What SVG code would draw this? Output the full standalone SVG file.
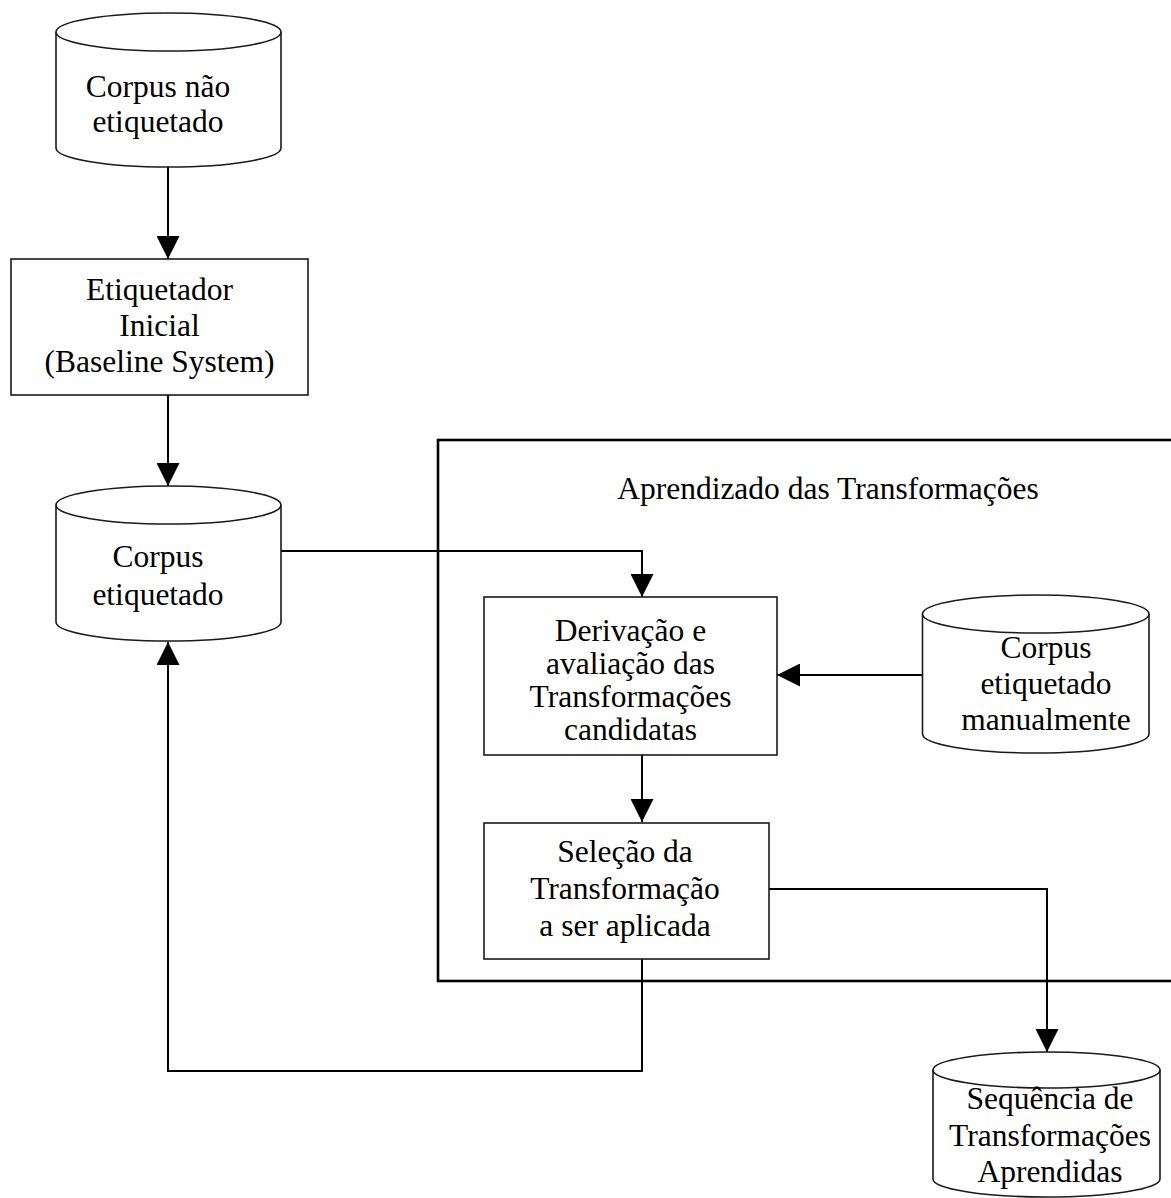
<svg xmlns="http://www.w3.org/2000/svg" width="1171" height="1198" viewBox="0 0 1171 1198">
  <defs>
    <style>
      .shape { fill: #ffffff; stroke: #1a1a1a; stroke-width: 1.6; }
      .frame { fill: none; stroke: #000000; stroke-width: 2.6; }
      .wire { fill: none; stroke: #000000; stroke-width: 2; }
      .lbl { font-family: "Liberation Serif", "Times New Roman", serif; font-size: 31.5px; fill: #000000; text-anchor: middle; }
    </style>
    <marker id="head" markerUnits="userSpaceOnUse" markerWidth="24" markerHeight="23" refX="23" refY="11.5" orient="auto">
      <path d="M0,0 L23,11.5 L0,23 Z" fill="#000000"/>
    </marker>
  </defs>

  <rect width="1171" height="1198" fill="#ffffff"/>

  <!-- learning stage frame (runs off the right edge) -->
  <g id="aprendizado">
    <rect class="frame" x="438" y="440" width="800" height="541"/>
    <text class="lbl" x="828" y="499">Aprendizado das Transformações</text>
  </g>

  <!-- connectors -->
  <g id="connectors">
    <line class="wire" x1="168" y1="167" x2="168" y2="259" marker-end="url(#head)"/>
    <line class="wire" x1="168" y1="395" x2="168" y2="486" marker-end="url(#head)"/>
    <polyline class="wire" points="281,551 642,551 642,597" marker-end="url(#head)"/>
    <line class="wire" x1="922" y1="675" x2="777" y2="675" marker-end="url(#head)"/>
    <line class="wire" x1="642" y1="755" x2="642" y2="822" marker-end="url(#head)"/>
    <polyline class="wire" points="769,889 1047,889 1047,1052" marker-end="url(#head)"/>
    <polyline class="wire" points="642,959 642,1071 168,1071 168,642" marker-end="url(#head)"/>
  </g>

  <g id="corpus-nao-etiquetado">
    <path class="shape" d="M56,32 V148 A112.5,19 0 0 0 281,148 V32"/>
    <ellipse class="shape" cx="168.5" cy="32" rx="112.5" ry="19"/>
    <text class="lbl" x="158" y="97">Corpus não</text>
    <text class="lbl" x="158" y="132">etiquetado</text>
  </g>

  <g id="etiquetador-inicial">
    <rect class="shape" x="11" y="259" width="297" height="136"/>
    <text class="lbl" x="159.5" y="300">Etiquetador</text>
    <text class="lbl" x="159.5" y="336">Inicial</text>
    <text class="lbl" x="159.5" y="372">(Baseline System)</text>
  </g>

  <g id="corpus-etiquetado">
    <path class="shape" d="M56,505 V622 A112.5,19 0 0 0 281,622 V505"/>
    <ellipse class="shape" cx="168.5" cy="505" rx="112.5" ry="19"/>
    <text class="lbl" x="158" y="567">Corpus</text>
    <text class="lbl" x="158" y="605">etiquetado</text>
  </g>

  <g id="derivacao">
    <rect class="shape" x="484" y="597" width="293" height="158"/>
    <text class="lbl" x="630.5" y="641">Derivação e</text>
    <text class="lbl" x="630.5" y="674">avaliação das</text>
    <text class="lbl" x="630.5" y="707">Transformações</text>
    <text class="lbl" x="630.5" y="740">candidatas</text>
  </g>

  <g id="corpus-manual">
    <path class="shape" d="M922.5,614 V734 A113.25,19 0 0 0 1149,734 V614"/>
    <ellipse class="shape" cx="1035.75" cy="614" rx="113.25" ry="19"/>
    <text class="lbl" x="1046" y="658">Corpus</text>
    <text class="lbl" x="1046" y="694">etiquetado</text>
    <text class="lbl" x="1046" y="730">manualmente</text>
  </g>

  <g id="selecao">
    <rect class="shape" x="484" y="823" width="285" height="136"/>
    <text class="lbl" x="625" y="862">Seleção da</text>
    <text class="lbl" x="625" y="899">Transformação</text>
    <text class="lbl" x="625" y="936">a ser aplicada</text>
  </g>

  <g id="sequencia">
    <path class="shape" d="M933,1070 V1179 A113.5,18 0 0 0 1160,1179 V1070"/>
    <ellipse class="shape" cx="1046.5" cy="1070" rx="113.5" ry="18"/>
    <text class="lbl" x="1050" y="1109">Sequência de</text>
    <text class="lbl" x="1050" y="1146">Transformações</text>
    <text class="lbl" x="1050" y="1182">Aprendidas</text>
  </g>
</svg>
